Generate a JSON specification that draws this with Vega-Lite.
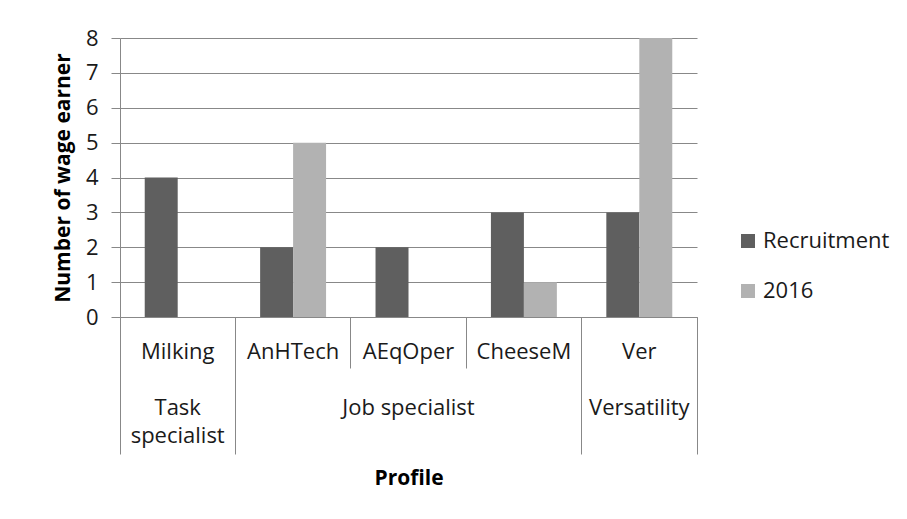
{
  "$schema": "https://vega.github.io/schema/vega-lite/v6.json",
  "width": 577,
  "height": 279,
  "autosize": {"type": "none"},
  "padding": {"left": 120, "top": 38, "right": 210, "bottom": 202},
  "background": "white",
  "config": {
    "font": "Open Sans",
    "view": {"stroke": null},
    "axis": {"labelColor": "#1a1a1a", "titleColor": "#000000", "labelFontSize": 22, "titleFontSize": 21, "titleFontWeight": "bold", "tickColor": "#888888", "domainColor": "#888888", "gridColor": "#888888"},
    "legend": {"labelColor": "#1a1a1a"}
  },
  "data": {
    "values": [
      {"profile": "Milking", "series": "Recruitment", "value": 4},
      {"profile": "Milking", "series": "2016", "value": 0},
      {"profile": "AnHTech", "series": "Recruitment", "value": 2},
      {"profile": "AnHTech", "series": "2016", "value": 5},
      {"profile": "AEqOper", "series": "Recruitment", "value": 2},
      {"profile": "AEqOper", "series": "2016", "value": 0},
      {"profile": "CheeseM", "series": "Recruitment", "value": 3},
      {"profile": "CheeseM", "series": "2016", "value": 1},
      {"profile": "Ver", "series": "Recruitment", "value": 3},
      {"profile": "Ver", "series": "2016", "value": 8}
    ]
  },
  "encoding": {
    "xOffset": {"field": "series", "type": "nominal", "sort": ["Recruitment", "2016"], "scale": {"paddingInner": 0, "paddingOuter": 0.75}},
    "y": {
      "field": "value", "type": "quantitative",
      "scale": {"domain": [0, 8], "nice": false},
      "axis": {"values": [0, 1, 2, 3, 4, 5, 6, 7, 8], "grid": true, "tickSize": 9, "labelPadding": 13, "title": "Number of wage earner", "titlePadding": 12}
    },
    "color": {
      "field": "series", "type": "nominal", "sort": ["Recruitment", "2016"],
      "scale": {"range": ["#5f5f5f", "#b2b2b2"]},
      "legend": {"title": null, "orient": "none", "legendX": 617, "legendY": 192, "symbolType": "square", "symbolSize": 196, "symbolStrokeWidth": 0, "labelFontSize": 22, "labelOffset": 4, "rowPadding": 28, "padding": 0}
    }
  },
  "layer": [
    {
      "mark": {"type": "bar"},
      "encoding": {
        "x": {
          "field": "profile", "type": "nominal",
          "sort": ["Milking", "AnHTech", "AEqOper", "CheeseM", "Ver"],
          "scale": {"paddingInner": 0, "paddingOuter": 0},
          "axis": {
            "orient": "bottom",
            "title": "Profile",
            "labelAngle": 0,
            "labelBaseline": "top",
            "labelPadding": -27,
            "labelOverlap": false,
            "bandPosition": 1,
            "tickExtra": true,
            "tickSize": 51,
            "titleY": 161,
            "titleBaseline": "middle"
          }
        }
      }
    },
    {
      "mark": {"type": "bar", "opacity": 0},
      "encoding": {
        "x": {
          "field": "profile", "type": "nominal",
          "sort": ["Milking", "AnHTech", "AEqOper", "CheeseM", "Ver"],
          "axis": {"orient": "bottom", "values": ["Milking", "CheeseM", "Ver"], "bandPosition": 1, "tickExtra": true, "tickSize": 137, "labels": false, "domain": false, "title": null}
        }
      }
    },
    {
      "mark": {"type": "bar", "opacity": 0},
      "encoding": {
        "x": {
          "field": "profile", "type": "nominal",
          "sort": ["Milking", "AnHTech", "AEqOper", "CheeseM", "Ver"],
          "axis": {
            "orient": "bottom",
            "values": ["Milking", "AEqOper", "Ver"],
            "labelExpr": "datum.value == 'Milking' ? ['Task', 'specialist'] : datum.value == 'AEqOper' ? 'Job specialist' : 'Versatility'",
            "labelAngle": 0,
            "labelBaseline": "top",
            "labelLineHeight": 28,
            "labelOverlap": false,
            "labelPadding": 80,
            "ticks": false,
            "tickSize": 0,
            "domain": false,
            "title": null
          }
        }
      }
    }
  ],
  "resolve": {"axis": {"x": "independent"}}
}
